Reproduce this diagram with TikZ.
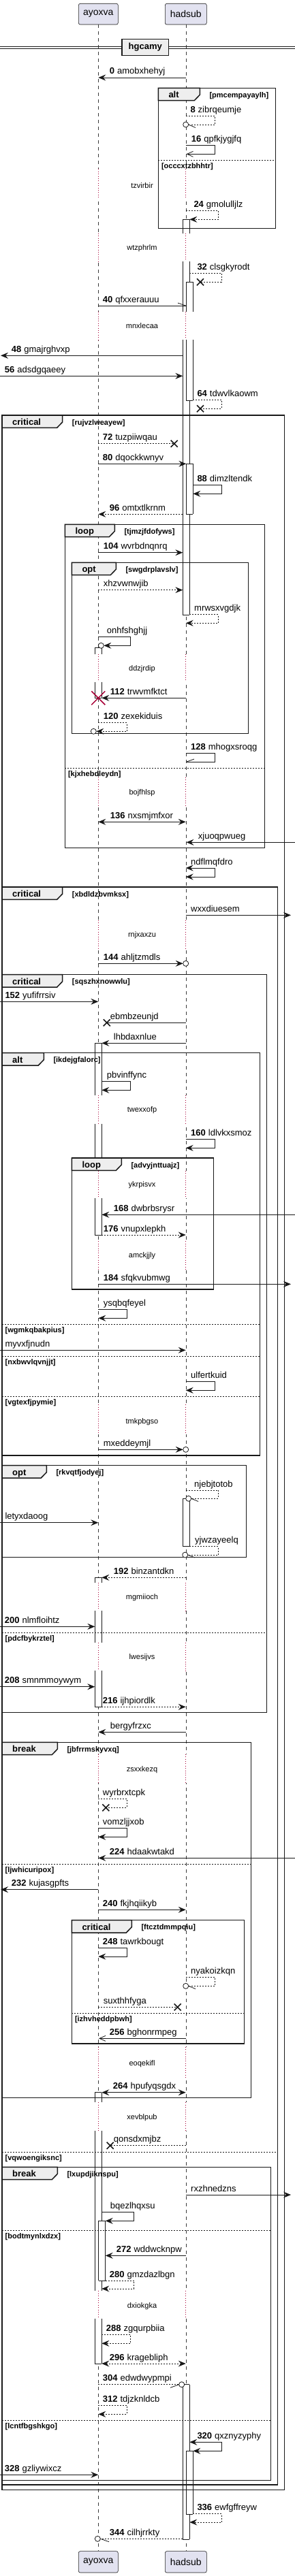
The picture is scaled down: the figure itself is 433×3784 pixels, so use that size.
\documentclass[tikz,border=0pt]{standalone}
\usepackage{fontspec}
\setmainfont{Liberation Sans}
\usetikzlibrary{arrows.meta}
\definecolor{ln}{HTML}{181818}
\definecolor{pfill}{HTML}{E2E2F0}
\definecolor{tabfill}{HTML}{EEEEEE}
\definecolor{dred}{HTML}{A80036}
\tikzset{
 life/.style={draw=ln!85, line width=0.6pt, dash pattern=on 5pt off 5pt},
 part/.style={draw=ln, fill=pfill, line width=0.6pt, rounded corners=2.5pt, inner sep=0pt, font=\fontsize{14}{16}\selectfont},
 m/.style={draw=ln, line width=0.8pt},
 md/.style={m, dash pattern=on 2pt off 2pt},
 fa/.style={-{Stealth[length=11pt,width=9pt,inset=4pt]}},
 fab/.style={{Stealth[length=11pt,width=9pt,inset=4pt]}-{Stealth[length=11pt,width=9pt,inset=4pt]}},
 oa/.style={-{Straight Barb[length=9pt,width=8pt]}},
 xm/.style={draw=ln, line width=1.6pt},
 bl/.style={draw=ln, line width=0.8pt},
 fr/.style={draw=ln, line width=1.5pt},
 tabs/.style={draw=ln, fill=tabfill, line width=1.5pt},
 sepl/.style={draw=ln, line width=0.8pt, dash pattern=on 2pt off 2pt},
 dl/.style={draw=dred, line width=0.8pt, dash pattern=on 0.8pt off 2.6pt},
 lbl/.style={anchor=base west, inner sep=0pt, font=\fontsize{13}{15}\selectfont},
 dtx/.style={inner sep=0pt, font=\fontsize{11}{13}\selectfont},
 kw/.style={anchor=base west, inner sep=0pt, font=\bfseries\fontsize{13}{15}\selectfont},
 gd/.style={anchor=base west, inner sep=0pt, font=\bfseries\fontsize{11}{13}\selectfont},
}
\newcommand\qmsg[5]{\coordinate (#1s) at (#3,#5);\coordinate (#1e) at (#4,#5);\draw[#2] (#1s) -- (#1e);}
\newcommand\qself[7]{\coordinate (#1s) at (#3,#5);\coordinate (#1e) at (#6,#7);\draw[#2] (#1s) -- (#4,#5) -- (#4,#7) -- (#1e);}
\newcommand\qlab[5]{\node[lbl] (#1) at (#2,#3) {\textbf{#4}\hspace{4pt}#5};}
\newcommand\qlabt[4]{\node[lbl] (#1) at (#2,#3) {#4};}
\newcommand\qx[2]{\draw[xm] ({#1-5},{#2-5}) -- ({#1+5},{#2+5}) ({#1-5},{#2+5}) -- ({#1+5},{#2-5});}
\newcommand\qc[2]{\draw[ln, line width=0.8pt, fill=white] (#1,#2) circle[radius=4pt];}
\newcommand\qframe[8]{\draw[fr] (#2,#3) rectangle (#4,#5);
 \filldraw[tabs] (#2,#3) -- (#6,#3) -- (#6,{#3+10}) -- ({#6-8},{#3+18.3}) -- (#2,{#3+18.3}) -- cycle;
 \node[kw] (#1k) at ({#2+15},{#3+14.5}) {#7};
 \node[gd] (#1g) at ({#6+14},{#3+14}) {#8};}
\newcommand\qsep[5]{\draw[sepl] (#2,#4) -- (#3,#4); \node[gd] (#1) at ({#2+4.5},{#4+12}) {#5};}
\newcommand\qdelay[5]{\draw[white,line width=2pt] (144.3,#2) -- (144.3,#3) (272.7,#2) -- (272.7,#3);
 \draw[dl] (144.3,#2) -- (144.3,#3) (272.7,#2) -- (272.7,#3);
 \node[dtx] (#1) at (208.5,#4) {#5};}
\newcommand\qbar[3]{\fill[white] (#1,#2) rectangle ({#1+10},#3); \draw[bl] (#1,#2) -- (#1,#3) ({#1+10},#2) -- ({#1+10},#3);}
\newcommand\qcap[2]{\draw[bl] (#1,#2) -- ({#1+10},#2);}
\begin{document}
\begin{tikzpicture}[x=1pt,y=-1pt]
\useasboundingbox (0,0) rectangle (433,3784);
% participants
\node[part, minimum width=58pt, minimum height=30.7pt] (pA) at (144.3,20.65) {ayoxva};
\node[part, minimum width=61pt, minimum height=30.7pt] (pH) at (272.8,20.65) {hadsub};
\node[part, minimum width=58pt, minimum height=31.3pt] (pAb) at (144.3,3763.3) {ayoxva};
\node[part, minimum width=61pt, minimum height=31.3pt] (pHb) at (272.8,3763.3) {hadsub};
\draw[life] (pA.south) -- (pAb.north);
\draw[life] (pH.south) -- (pHb.north);
% divider
\draw[m] (0,68.7) -- (433,68.7) (0,71.3) -- (433,71.3);
\node[draw=ln, fill=tabfill, line width=1.5pt, minimum width=68.7pt, minimum height=24.4pt, inner sep=0pt, font=\bfseries\fontsize{13}{15}\selectfont] (dv) at (213.3,69.5) {hgcamy};
% delays
\qdelay{d1}{248.3}{291.7}{272.3}{tzvirbir}
\qdelay{d2}{342.7}{384}{364.3}{wtzphrlm}
\qdelay{d3}{457.7}{499.3}{479}{mnxlecaa}
\qdelay{d4}{961}{1001.7}{983}{ddzjrdip}
\qdelay{d5}{1141.7}{1184.3}{1165}{bojfhlsp}
\qdelay{d6}{1351.7}{1393.3}{1373.3}{rnjxaxzu}
\qdelay{d7}{1609}{1650.7}{1631}{twexxofp}
\qdelay{d8}{1720}{1760}{1741}{ykrpisvx}
\qdelay{d9}{1823.3}{1865}{1844.3}{amckjjly}
\qdelay{d10}{2063.3}{2107.3}{2088.3}{tmkpbgso}
\qdelay{d11}{2325}{2366}{2346.3}{mgmiioch}
\qdelay{d12}{2413.3}{2454.3}{2435}{lwesijvs}
\qdelay{d13}{2576.7}{2619}{2600}{zsxxkezq}
\qdelay{d14}{3007}{3052}{3031.3}{eoqekifl}
\qdelay{d15}{3088.3}{3130}{3110.3}{xevblpub}
\qdelay{d16}{3365.3}{3406}{3387.3}{dxiokgka}
% activation bars
\qbar{268.3}{322.3}{342.7}\qcap{268.3}{322.3}
\qbar{268.3}{384}{457.7}
\qbar{268.3}{499.3}{903.3}\qcap{268.3}{903.3}
\qbar{273.3}{414.3}{457.7}\qcap{273.3}{414.3}
\qbar{273.3}{499.3}{588.3}\qcap{273.3}{588.3}
\qbar{273.3}{681.3}{755.3}\qcap{273.3}{681.3}\qcap{273.3}{755.3}
\qbar{139.3}{951}{961}\qcap{139.3}{951}
\qbar{139.3}{1001.7}{1025.3}\qcap{139.3}{1025.3}
\qbar{139.3}{1532.3}{1609}\qcap{139.3}{1532.3}
\qbar{139.3}{1650.7}{1720}
\qbar{139.3}{1760}{1814}\qcap{139.3}{1814}
\qbar{268.3}{2201.3}{2271.7}\qcap{268.3}{2201.3}\qcap{268.3}{2271.7}
\qbar{139.3}{2317.3}{2325}\qcap{139.3}{2317.3}
\qbar{139.3}{2366}{2413.3}
\qbar{139.3}{2454.3}{2507.3}\qcap{139.3}{2507.3}
\qbar{139.3}{3073.7}{3088.3}\qcap{139.3}{3073.7}
\qbar{139.3}{3130}{3365.3}
\qbar{139.3}{3406}{3472}\qcap{139.3}{3472}
\qbar{144.5}{3262.3}{3350.3}\qcap{144.5}{3262.3}\qcap{144.5}{3350.3}
\qbar{268.3}{3502.7}{3730.3}\qcap{268.3}{3502.7}\qcap{268.3}{3730.3}
\qbar{273.3}{3600.3}{3693.3}\qcap{273.3}{3600.3}\qcap{273.3}{3693.3}
% frames
\qframe{f1}{232.3}{129.3}{404.7}{335.3}{293.3}{alt}{[pmcempayaylh]}
\qsep{s1}{232.3}{404.7}{235.3}{[occcxtzbhhtr]}
\qframe{f2}{3}{610}{417.3}{3657.7}{91.7}{critical}{[rujvzlweayew]}
\qframe{f3}{95.3}{770.3}{388.7}{1245.3}{168.3}{loop}{[tjmzjfdofyws]}
\qsep{s3}{95.3}{388.7}{1128}{[kjxhebdleydn]}
\qframe{f4}{105.3}{826.3}{364.3}{1077.7}{170.3}{opt}{[swgdrplavslv]}
\qframe{f5}{3}{1303}{407.3}{3650}{91.7}{critical}{[xbdldzbvmksx]}
\qsep{s5}{3}{407.3}{3161}{[vqwoengiksnc]}
\qframe{f6}{3}{1431.7}{391.7}{2515.3}{91.7}{critical}{[sqszhxnowwlu]}
\qsep{s6}{3}{391.7}{2398}{[pdcfbykrztel]}
\qframe{f7}{3}{1546.7}{381.7}{2138}{64.3}{alt}{[ikdejgfalorc]}
\qsep{s7a}{3}{381.7}{1945.3}{[wgmkqbakpius]}
\qsep{s7b}{3}{381.7}{1992.3}{[nxbwvlqvnjjt]}
\qsep{s7c}{3}{381.7}{2051.3}{[vgtexfjpymie]}
\qframe{f8}{105.3}{1701}{313.3}{1894}{178.3}{loop}{[advyjnttuajz]}
\qframe{f9}{3}{2152.7}{361.7}{2287.3}{68.3}{opt}{[rkvqtfjodyej]}
\qframe{f10}{3}{2559.3}{368.7}{3081.7}{84.3}{break}{[jbfrrmskyvxq]}
\qsep{s10}{3}{368.7}{2738.3}{[ljwhicuripox]}
\qframe{f11}{105.3}{2820.7}{358.7}{3002}{193.3}{critical}{[ftcztdmmpqiu]}
\qsep{s11}{105.3}{358.7}{2957.3}{[izhvheddpbwh]}
\qframe{f12}{3}{3183.3}{397.7}{3643.3}{84.3}{break}{[lxupdjiknspu]}
\qsep{s12a}{3}{397.7}{3276.3}{[bodtmynlxdzx]}
\qsep{s12b}{3}{397.7}{3555}{[lcntfbgshkgo]}
% messages
\qmsg{a0}{m,fa}{272.7}{144.3}{114}
\qlab{l0}{160.7}{109}{0}{amobxhehyj}
\qself{a8}{md}{272.7}{315.3}{170.3}{276.7}{183}\qc{272.7}{183}\draw[m] (a8e) -- (287,187.5);
\qlab{l8}{279.3}{165.3}{8}{zibrqeumje}
\qself{a16}{m,oa}{272.7}{315.3}{213.3}{273.5}{226.3}
\qlab{l16}{280.7}{208.3}{16}{qpfkjygjfq}
\qself{a24}{md,fa}{272.7}{320.3}{309.3}{278.3}{322.3}
\qlab{l24}{284.3}{304.3}{24}{gmolulljlz}
\qself{a32}{md}{278.3}{325.3}{401.3}{294}{414.3}\qx{294}{414.3}
\qlab{l32}{289.3}{396.3}{32}{clsgkyrodt}
\qmsg{a40}{m}{144.3}{273.3}{449.3}\draw[m] (a40e) -- (261,445);
\qlab{l40}{150.7}{444.3}{40}{qfxxerauuu}
\qmsg{a48}{m,fa}{268.3}{1}{522.3}
\qlab{l48}{16.7}{517.3}{48}{gmajrghvxp}
\qmsg{a56}{m,fa}{0}{268.3}{552.3}
\qlab{l56}{6.7}{547.3}{56}{adsdgqaeey}
\qself{a64}{md}{283.3}{325.3}{587.3}{294}{600.3}\qx{294}{600.3}
\qlab{l64}{289.3}{582.3}{64}{tdwvlkaowm}
\qmsg{a72}{md}{144.3}{255.7}{651.7}\qx{255.7}{651.7}
\qlab{l72}{150.7}{646.7}{72}{tuzpiiwqau}
\qmsg{a80}{m,fa}{144.3}{273.3}{681.3}
\qlab{l80}{150.7}{676.3}{80}{dqockkwnyv}
\qself{a88}{m,fa}{283.3}{325.3}{712.3}{283.3}{725.3}
\qlab{l88}{289.3}{707.3}{88}{dimzltendk}
\qmsg{a96}{md,fa}{268.3}{144.3}{755.3}
\qlab{l96}{160.7}{750.3}{96}{omtxtlkrnm}
\qmsg{a104}{m,fa}{144.3}{268.3}{811.7}
\qlab{l104}{151.7}{806.7}{104}{wvrbdnqnrq}
\qmsg{b1}{md,fa}{144.3}{268.3}{866.7}
\qlabt{k1}{151.7}{861.7}{xhzvwnwjib}
\qself{b2}{md,fa}{278.3}{320.3}{902.7}{272.7}{915.3}
\qlabt{k2}{285}{897.7}{mrwsxvgdjk}
\qself{b3}{m,fa}{144.3}{191.7}{935.3}{152.3}{948.3}\qc{148.3}{948.3}
\qlabt{k3}{156.7}{930.3}{onhfshghjj}
\qmsg{a112}{m,fa}{272.7}{149.3}{1025.3}
\draw[draw=dred, line width=1.5pt] (134.3,1015.3) -- (154.3,1035.3) (134.3,1035.3) -- (154.3,1015.3);
\qlab{l112}{161.7}{1020.3}{112}{trwvmfktct}
\qself{a120}{md,fa}{144.3}{186.3}{1061.7}{141.3}{1074.3}\qc{137.3}{1074.3}
\qlab{l120}{151.7}{1056.7}{120}{zexekiduis}
\qself{a128}{m}{272.7}{315.3}{1106.7}{274}{1119}\draw[m] (a128e) -- (285,1115);
\qlab{l128}{280}{1101.7}{128}{mhogxsroqg}
\qmsg{a136}{m,fab}{144.3}{272.7}{1207.3}
\qlab{l136}{161.7}{1202.3}{136}{nxsmjmfxor}
\qmsg{b4}{m,fa}{433}{273.5}{1237.3}
\qlabt{k4}{290.7}{1232.3}{xjuoqpwueg}
\qself{b5}{m,fab}{272.7}{315.3}{1275}{272.7}{1288}
\qlabt{k5}{280}{1270}{ndflmqfdro}
\qmsg{b6}{m,fa}{272.7}{427}{1344.3}
\qlabt{k6}{280}{1339.3}{wxxdiuesem}
\qmsg{a144}{m,fa}{144.3}{268.7}{1415.3}\qc{272.7}{1415.3}
\qlab{l144}{151.7}{1410.3}{144}{ahljtzmdls}
\qmsg{a152}{m,fa}{0}{144.3}{1471.3}
\qlab{l152}{7.3}{1466.3}{152}{yufifrrsiv}
\qmsg{b7}{m}{272.7}{156.7}{1502.3}\qx{156.7}{1502.3}
\qlabt{k7}{161.7}{1497.3}{ebmbzeunjd}
\qmsg{b8}{m,fa}{272.7}{149.3}{1532.3}
\qlabt{k8}{166.7}{1527.3}{lhbdaxnlue}
\qself{b9}{m,fa}{149.3}{191.7}{1588.7}{149.3}{1601.3}
\qlabt{k9}{156.7}{1583.7}{pbvinffync}
\qself{a160}{m,fa}{272.7}{315.3}{1673.3}{272.7}{1686.3}
\qlab{l160}{280}{1668.3}{160}{ldlvkxsmoz}
\qmsg{a168}{m,fa}{433}{149.3}{1784.3}
\qlab{l168}{166.7}{1779.3}{168}{dwbrbsrysr}
\qmsg{a176}{md,fa}{149.3}{272.7}{1814}
\qlab{l176}{151.7}{1809}{176}{vnupxlepkh}
\qmsg{a184}{m,fa}{144.3}{427}{1886.3}
\qlab{l184}{151.7}{1881.3}{184}{sfqkvubmwg}
\qself{b10}{m,fa}{144.3}{186.3}{1923.3}{144.3}{1936.3}
\qlabt{k10}{151.7}{1918.3}{ysqbqfeyel}
\qmsg{b11}{m,fa}{0}{272.7}{1983.3}
\qlabt{k11}{7.3}{1978.3}{myvxfjnudn}
\qself{b12}{m,fa}{272.7}{315.3}{2029.3}{272.7}{2042.3}
\qlabt{k12}{280}{2024.3}{ulfertkuid}
\qmsg{b13}{m,fa}{144.3}{268.7}{2129.3}\qc{272.7}{2129.3}
\qlabt{k13}{151.7}{2124.3}{mxeddeymjl}
\qself{b14}{md}{272.7}{320.3}{2189}{280.7}{2201.3}\qc{276.7}{2201.3}\draw[m] (b14e) -- (291,2205.5);
\qlabt{k14}{285}{2184}{njebjtotob}
\qmsg{b15}{m,fa}{0}{144.3}{2236.7}
\qlabt{k15}{7.3}{2231.7}{letyxdaoog}
\qself{b16}{md}{278.3}{320.3}{2271.7}{275.7}{2284}\qc{271.7}{2284}\draw[m] (b16e) -- (286,2288);
\qlabt{k16}{286}{2266.7}{yjwzayeelq}
\qmsg{a192}{md,fa}{272.7}{149.3}{2317.3}
\qlab{l192}{166.7}{2312.3}{192}{binzantdkn}
\qmsg{a200}{m,fa}{0}{139.3}{2389.3}
\qlab{l200}{6.7}{2384.3}{200}{nlmfloihtz}
\qmsg{a208}{m,fa}{0}{139.3}{2477.7}
\qlab{l208}{6.7}{2472.7}{208}{smnmmoywym}
\qmsg{a216}{md,fa}{149.3}{272.7}{2507.3}
\qlab{l216}{150.7}{2502.3}{216}{ijhpiordlk}
\qmsg{b17}{m,fa}{272.7}{144.3}{2544.3}
\qlabt{k17}{161.7}{2539.3}{bergyfrzxc}
\qself{b18}{md}{144.3}{186.3}{2642.3}{155.3}{2655.3}\qx{155.3}{2655.3}
\qlabt{k18}{150.7}{2637.3}{wyrbrxtcpk}
\qself{b19}{m,fa}{144.3}{186.3}{2685.3}{144.3}{2698.3}
\qlabt{k19}{150.7}{2680.3}{vomzljjxob}
\qmsg{a224}{m,fa}{433}{144.3}{2729.3}
\qlab{l224}{160.7}{2724.3}{224}{hdaakwtakd}
\qmsg{a232}{m,fa}{144.3}{1}{2775.7}
\qlab{l232}{16.7}{2770.7}{232}{kujasgpfts}
\qmsg{a240}{m,fa}{144.3}{272.7}{2805.3}
\qlab{l240}{150.7}{2800.3}{240}{fkjhqiikyb}
\qself{a248}{m,fa}{144.3}{186.3}{2861.3}{144.3}{2874}
\qlab{l248}{150.7}{2856.3}{248}{tawrkbougt}
\qself{b20}{md}{272.7}{315.3}{2904.3}{276.7}{2917.3}\qc{272.7}{2917.3}\draw[m] (b20e) -- (287,2921.5);
\qlabt{k20}{280}{2899.3}{nyakoizkqn}
\qmsg{b21}{md}{144.3}{260.7}{2948.3}\qx{260.7}{2948.3}
\qlabt{k21}{151.7}{2943.3}{suxthhfyga}
\qmsg{a256}{m,oa}{272.7}{145}{2994.3}
\qlab{l256}{160.7}{2989.3}{256}{bghonrmpeg}
\qmsg{a264}{m,fab}{149.3}{272.7}{3073.7}
\qlab{l264}{165.7}{3068.7}{264}{hpufyqsgdx}
\qmsg{b22}{md}{272.7}{161.7}{3151.7}\qx{161.7}{3151.7}
\qlabt{k22}{166.7}{3146.7}{qonsdxmjbz}
\qmsg{b23}{m,fa}{272.7}{427}{3224}
\qlabt{k23}{280}{3219}{rxzhnedzns}
\qself{b24}{m,fa}{149.3}{196.7}{3249.3}{154.7}{3262.3}
\qlabt{k24}{161.7}{3244.3}{bqezlhqxsu}
\qmsg{a272}{m,fa}{272.7}{154.7}{3313.3}
\qlab{l272}{170.7}{3308.3}{272}{wddwcknpw}
\qself{a280}{md,fa}{154.7}{196.7}{3350.3}{149.3}{3362}
\qlab{l280}{160.7}{3345.3}{280}{gmzdazlbgn}
\qself{a288}{md,fa}{149.3}{191.7}{3429.3}{149.3}{3442.3}
\qlab{l288}{155.7}{3424.3}{288}{zgqurpbiia}
\qmsg{a296}{md,fab}{149.3}{272.7}{3472}
\qlab{l296}{160.7}{3467}{296}{kragebliph}
\qmsg{a304}{md}{144.3}{262.7}{3502.7}\qc{266.7}{3502.7}\draw[m] (a304e) -- (250,3507.3);
\qlab{l304}{150.7}{3497.7}{304}{edwdwypmpi}
\qself{a312}{md,fa}{144.3}{186.3}{3533.3}{144.3}{3546.3}
\qlab{l312}{150.7}{3528.3}{312}{tdjzknldcb}
\qself{a320}{m,fab}{278.3}{325.3}{3587.3}{283.3}{3600.3}
\qlab{l320}{289.3}{3582.3}{320}{qxznyzyphy}
\qmsg{a328}{m,fa}{0}{144.3}{3635.3}
\qlab{l328}{6.7}{3630.3}{328}{gzliywixcz}
\qself{a336}{md,fa}{283.3}{325.3}{3692.7}{278.3}{3705}
\qlab{l336}{289.3}{3687.7}{336}{ewfgffreyw}
\qmsg{a344}{md}{268.3}{147.3}{3729.3}\qc{143.3}{3729.3}\draw[m] (a344e) -- (160,3733.7);
\qlab{l344}{160.7}{3724.3}{344}{cilhjrrkty}
\end{tikzpicture}
\end{document}
